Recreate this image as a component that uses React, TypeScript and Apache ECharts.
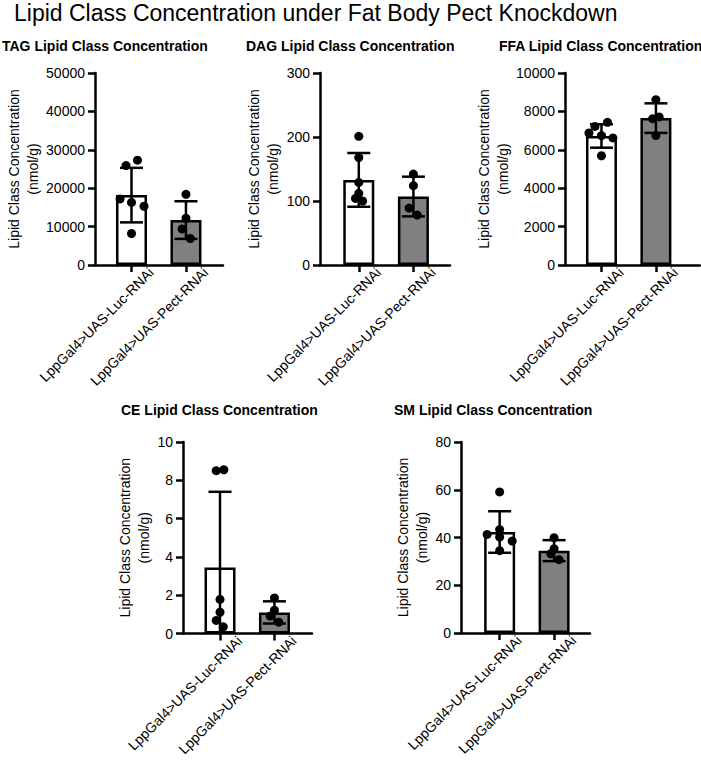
import React, { useEffect, useRef } from "react";
import * as echarts from "echarts";

const FONT = "'Liberation Sans', Arial, Helvetica, sans-serif";

const MAIN_TITLE = "Lipid Class Concentration under Fat Body Pect Knockdown";
const GROUP_LABELS = ["LppGal4>UAS-Luc-RNAi", "LppGal4>UAS-Pect-RNAi"];
const Y_AXIS_NAME = "Lipid Class Concentration\n(nmol/g)";
const PANEL_TITLES = [
  "TAG Lipid Class Concentration",
  "DAG Lipid Class Concentration",
  "FFA Lipid Class Concentration",
  "CE Lipid Class Concentration",
  "SM Lipid Class Concentration",
];
const Y_MAXES = [50000, 300, 10000, 10, 80];
const Y_INTERVALS = [10000, 100, 2000, 2, 20];

// TAG
const TAG_MEANS = [18200, 11700];
const TAG_SDS = [7100, 4900];
const TAG_LUC_POINTS = [25900, 27300, 17200, 16300, 15300, 8200];
const TAG_LUC_JITTER = [-0.1, 0.11, -0.21, 0, 0.23, 0];
const TAG_PECT_POINTS = [18400, 12200, 9400, 6900];
const TAG_PECT_JITTER = [0, 0, -0.07, 0.08];

// DAG
const DAG_MEANS = [133, 107];
const DAG_SDS = [42, 31];
const DAG_LUC_POINTS = [201, 168, 129, 112, 104, 100];
const DAG_LUC_JITTER = [0, 0, 0, 0, -0.06, 0.07];
const DAG_PECT_POINTS = [142, 124, 89, 78];
const DAG_PECT_JITTER = [0, 0, -0.08, 0.07];

// FFA
const FFA_MEANS = [6720, 7650];
const FFA_SDS = [610, 770];
const FFA_LUC_POINTS = [7430, 7220, 6880, 6740, 6620, 5690];
const FFA_LUC_JITTER = [0.11, -0.12, -0.23, 0, 0.21, 0];
const FFA_PECT_POINTS = [8610, 7710, 7620, 6740];
const FFA_PECT_JITTER = [0, 0.06, -0.06, 0];

// CE
const CE_MEANS = [3.45, 1.1];
const CE_SDS = [3.95, 0.58];
const CE_LUC_POINTS = [8.5, 8.55, 1.78, 1.11, 0.68, 0.35];
const CE_LUC_JITTER = [-0.07, 0.07, 0, 0, -0.07, 0.06];
const CE_PECT_POINTS = [1.86, 1.22, 0.91, 0.59];
const CE_PECT_JITTER = [0, 0, -0.08, 0.08];

// SM
const SM_MEANS = [42.3, 34.5];
const SM_SDS = [8.7, 4.4];
const SM_LUC_POINTS = [59.1, 43.3, 41.3, 40.2, 38.5, 34.5];
const SM_LUC_JITTER = [0, 0, -0.23, 0, 0.23, 0];
const SM_PECT_POINTS = [39.9, 35.3, 33.2, 30.7];
const SM_PECT_JITTER = [0, 0, -0.06, 0.09];

const PANEL_DATA = [
  { means: TAG_MEANS, sds: TAG_SDS, luc: TAG_LUC_POINTS, lucJ: TAG_LUC_JITTER, pect: TAG_PECT_POINTS, pectJ: TAG_PECT_JITTER },
  { means: DAG_MEANS, sds: DAG_SDS, luc: DAG_LUC_POINTS, lucJ: DAG_LUC_JITTER, pect: DAG_PECT_POINTS, pectJ: DAG_PECT_JITTER },
  { means: FFA_MEANS, sds: FFA_SDS, luc: FFA_LUC_POINTS, lucJ: FFA_LUC_JITTER, pect: FFA_PECT_POINTS, pectJ: FFA_PECT_JITTER },
  { means: CE_MEANS, sds: CE_SDS, luc: CE_LUC_POINTS, lucJ: CE_LUC_JITTER, pect: CE_PECT_POINTS, pectJ: CE_PECT_JITTER },
  { means: SM_MEANS, sds: SM_SDS, luc: SM_LUC_POINTS, lucJ: SM_LUC_JITTER, pect: SM_PECT_POINTS, pectJ: SM_PECT_JITTER },
];

// layout
const GRIDS = [
  { left: 95, top: 73, width: 128, height: 192 },
  { left: 320, top: 73, width: 130, height: 192 },
  { left: 565, top: 73, width: 135, height: 192 },
  { left: 183, top: 442, width: 129, height: 191.5 },
  { left: 461, top: 442, width: 129, height: 191 },
];
const X_RANGES = [
  [-0.67, 1.68],
  [-0.71, 1.67],
  [-0.67, 1.81],
  [-0.68, 1.69],
  [-0.71, 1.66],
];
const NAME_GAPS = [51, 36, 51, 30, 28];
const TITLE_POS = [
  [2, 46],
  [246, 46],
  [499, 46],
  [121, 410],
  [394, 410],
];
const BAR_COLORS = ["#ffffff", "#808080"];
const LABEL_SHIFT = 0.36;
const LW = 2.5;

function buildOption() {
  const axisLineStyle = { color: "#000", width: LW };
  const grid: any[] = [];
  const xAxis: any[] = [];
  const yAxis: any[] = [];
  const series: any[] = [];
  const graphic: any[] = [];

  graphic.push({
    type: "text",
    x: 14,
    y: 13,
    style: {
      text: MAIN_TITLE,
      fontSize: 23,
      fontFamily: FONT,
      fill: "#000",
      verticalAlign: "middle",
      align: "left",
    },
  });

  PANEL_DATA.forEach((p, i) => {
    grid.push({ ...GRIDS[i], containLabel: false });
    xAxis.push({
      type: "value",
      gridIndex: i,
      min: X_RANGES[i][0],
      max: X_RANGES[i][1],
      axisLine: { show: true, onZero: false, lineStyle: axisLineStyle },
      axisTick: { show: true, customValues: [0, 1], length: 7, lineStyle: axisLineStyle },
      axisLabel: {
        show: true,
        customValues: [LABEL_SHIFT, 1 + LABEL_SHIFT],
        formatter: (v: number) => GROUP_LABELS[Math.round(v - LABEL_SHIFT)] || "",
        rotate: 45,
        margin: 5,
        fontSize: 14,
        color: "#000",
        fontFamily: FONT,
      },
      splitLine: { show: false },
    });
    yAxis.push({
      type: "value",
      gridIndex: i,
      min: 0,
      max: Y_MAXES[i],
      interval: Y_INTERVALS[i],
      axisLine: { show: true, onZero: false, lineStyle: axisLineStyle },
      axisTick: { show: true, length: 7, lineStyle: axisLineStyle },
      axisLabel: {
        fontSize: 14,
        color: "#000",
        margin: 10,
        fontFamily: FONT,
        formatter: (v: number) => String(v),
      },
      splitLine: { show: false },
      name: Y_AXIS_NAME,
      nameLocation: "middle",
      nameRotate: 90,
      nameGap: NAME_GAPS[i],
      nameTextStyle: { fontSize: 14, color: "#000", lineHeight: 19, fontFamily: FONT, align: "center" },
    });
    series.push({
      type: "bar",
      xAxisIndex: i,
      yAxisIndex: i,
      barWidth: 31,
      silent: true,
      z: 2,
      itemStyle: { borderColor: "#000", borderWidth: LW },
      data: p.means.map((m, k) => ({ value: [k, m], itemStyle: { color: BAR_COLORS[k] } })),
    });
    series.push({
      type: "custom",
      xAxisIndex: i,
      yAxisIndex: i,
      silent: true,
      z: 3,
      data: p.means.map((m, k) => [k, m, p.sds[k]]),
      renderItem: (params: any, api: any) => {
        const x = api.value(0);
        const m = api.value(1);
        const sd = api.value(2);
        const hi = api.coord([x, m + sd]);
        const lowVal = m - sd;
        const lo = api.coord([x, Math.max(lowVal, 0)]);
        const cap = 11.5;
        const style = { stroke: "#000", lineWidth: LW, fill: null };
        const children: any[] = [
          { type: "line", shape: { x1: hi[0], y1: hi[1], x2: lo[0], y2: lo[1] }, style },
          { type: "line", shape: { x1: hi[0] - cap, y1: hi[1], x2: hi[0] + cap, y2: hi[1] }, style },
        ];
        if (lowVal >= 0) {
          children.push({ type: "line", shape: { x1: lo[0] - cap, y1: lo[1], x2: lo[0] + cap, y2: lo[1] }, style });
        }
        return { type: "group", children };
      },
    });
    series.push({
      type: "scatter",
      xAxisIndex: i,
      yAxisIndex: i,
      symbol: "circle",
      symbolSize: 9,
      silent: true,
      z: 4,
      itemStyle: { color: "#000", opacity: 1 },
      data: [
        ...p.luc.map((v, j) => [0 + p.lucJ[j], v]),
        ...p.pect.map((v, j) => [1 + p.pectJ[j], v]),
      ],
    });
    graphic.push({
      type: "text",
      x: TITLE_POS[i][0],
      y: TITLE_POS[i][1],
      style: {
        text: PANEL_TITLES[i],
        fontSize: 14,
        fontWeight: "bold",
        fontFamily: FONT,
        fill: "#000",
        verticalAlign: "middle",
        align: "left",
      },
    });
  });

  return {
    animation: false,
    backgroundColor: "#ffffff",
    textStyle: { fontFamily: FONT },
    grid,
    xAxis,
    yAxis,
    series,
    graphic,
  };
}

export default function App() {
  const ref = useRef<HTMLDivElement>(null);
  useEffect(() => {
    if (!ref.current) return;
    const chart = echarts.init(ref.current, undefined, { renderer: "svg" });
    chart.setOption(buildOption() as any);
    return () => chart.dispose();
  }, []);
  return (
    <div
      ref={ref}
      style={{ position: "fixed", left: 0, top: 0, width: 701, height: 763, background: "#fff" }}
    />
  );
}
